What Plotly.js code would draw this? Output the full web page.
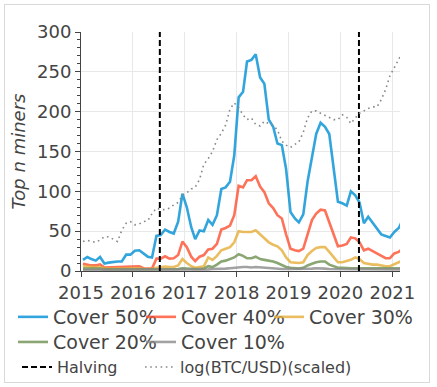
<!DOCTYPE html>
<html>
<head>
<meta charset="utf-8">
<script src="https://cdn.plot.ly/plotly-3.0.1.min.js"></script>
<style>
  html, body { margin: 0; padding: 0; background: #fff; }
  #wrap { position: relative; width: 437px; height: 387px; }
  #chart { position: absolute; left: 0; top: 0; width: 437px; height: 387px; }
  #frame { position: absolute; left: 4px; top: 4px; width: 424px; height: 377px; border: 1px solid #d9d9d9; pointer-events: none; }
</style>
</head>
<body>
<div id="wrap"><div id="chart"></div><div id="frame"></div></div>
<script>
// Monthly observations, Jan 2015 .. Mar 2021 (one value per month)
const startYear = 2015, startMonth = 1, nMonths = 75;
const months = [];
for (let k = 0; k < nMonths; k++) {
  const m = (startMonth - 1 + k) % 12 + 1;
  const y = startYear + Math.floor((startMonth - 1 + k) / 12);
  months.push(y + '-' + String(m).padStart(2, '0') + '-15');
}

const cover50 = [14,17.6,15,13,17.6,9.3,10.5,11.5,12,12,20.5,20.5,25.5,26,22,18,17,
  44,45,52,49,47,62,97,80,55,40,51,50,64,58,70,103,105,112,
  145,218,225,263,265,272,243,235,190,181,160,158,128,74,66,61,
  71,112,142,172,186,181,172,128,87,85,82,100,95,86,60,68,61,54,46,44,42,49,54,64];
const cover40 = [9,7.5,7,7,8.4,4.2,4.5,4.8,5,5,5.5,6,6,6,3.5,3,3,
  15.5,15.5,18.4,15.5,16,20,37,30,18,12.5,18,20,27,28,34,52,54,57,
  70,107,105,114,114,119,106,99,85,79,70,66,46,28,26,25,
  28,45,64,72,77,76,62,45,31,32,34,42,41,36,26,28,25,22,19,16,16,22,24,28];
const cover30 = [6,5.5,5,5,5,3,3,3,3,3,3,3.5,3.5,3.5,2.5,2.5,2.5,
  4,5,5.5,5,5,7,15,10,6,4,5,6,17,14,19,26,28,30,
  36,50,49,49,49,51,46,42,36,33,31,26,17,11,10,10,
  11,20,25,29,30,30,24,17,11,11,12.5,14,17,15,10,9,8,8,7,6,6,9,11,13];
const cover20 = [3,3,3,3,3,2,2,2,2,2,2,2,2,2,2,2,2,
  2.5,2.5,2.5,2.5,2.5,2.5,3.5,3,2.5,2.5,2.5,3,6,5,8,12,13,15,
  17,21,19,16,16,18,15,14,13,12,10,7,5,4,3.5,3,
  4,7,9,11,12,12,8,6,4,4,3.5,3.5,3.5,3.5,3.5,3.5,3.5,3.5,3.5,3.5,3.5,3.5,3.5,3.5];
const cover10 = [1.5,1.5,1.5,1.5,1.5,1.5,1.5,1.5,1.5,1.5,1.5,1.5,1.5,1.5,1.5,1.5,1.5,
  1.5,1.5,1.5,1.5,1.5,1.5,1.5,1.5,1.5,1.5,1.5,1.5,2,2.5,2.5,3,3,3.5,
  4,5,5,5,4.5,5,4.5,4,4,3.5,3,2.5,2.5,2.5,2.5,2.5,
  2.5,2.5,3,3.5,3.5,3,2.5,2.5,2,2,2,2,2,2,2,2,2,2,2,2,2,2,2,2];
const btcScaled = [37,38.5,37,36,39,43,43,40,37,51,60,62,58,59,62,63,
  72,79,77,77,79,83,86,95,98,103,105,115,134,141,150,165,173,183,203,211,
  205,196,190,192,184,182,188,185,183,177,163,158,155,159,162,
  174,192,201,201,198,195,193,190,190,196,193,185,192,198,201,204,206,206,215,228,245,255,264,275];

const halvingDates = ['2016-07-09', '2020-05-11'];
const yMax = 300;

const seriesNames = ['Cover 50%', 'Cover 40%', 'Cover 30%', 'Cover 20%', 'Cover 10%'];
const seriesData = [cover50, cover40, cover30, cover20, cover10];
const seriesColors = ['#008fd5', '#fc4f30', '#e5ae38', '#6d904f', '#8b8b8b'];

const traces = seriesNames.map((name, i) => ({
  type: 'scatter', mode: 'lines', name: name,
  x: months, y: seriesData[i],
  line: { color: seriesColors[i], width: 2.6 },
  opacity: 0.8,
  legend: i === 0 ? 'legend' : 'legend' + (i + 1)
}));

// halving vertical lines
const hx = [], hy = [];
halvingDates.forEach((d, i) => { if (i) { hx.push(null); hy.push(null); } hx.push(d, d); hy.push(0, yMax); });
traces.push({
  type: 'scatter', mode: 'lines', name: 'Halving',
  x: hx, y: hy,
  line: { color: '#000', width: 2, dash: '6px,3px' },
  legend: 'legend6'
});
traces.push({
  type: 'scatter', mode: 'lines', name: 'log(BTC/USD)(scaled)',
  x: months, y: btcScaled,
  line: { color: '#888', width: 1.6, dash: '1.6px,3.6px' },
  legend: 'legend7'
});

// one legend box per entry, laid out in three rows like the reference
function leg(x, y, size) {
  return { orientation: 'h', xanchor: 'left', yanchor: 'top', x: x, y: y,
           bgcolor: 'rgba(0,0,0,0)', font: { size: size } };
}

const layout = {
  width: 437, height: 387,
  margin: { l: 81, r: 37, t: 32, b: 116, autoexpand: false },
  paper_bgcolor: '#fff', plot_bgcolor: '#fff',
  font: { family: 'DejaVu Sans, sans-serif', color: '#444', size: 18 },
  showlegend: true,
  xaxis: {
    type: 'date', range: ['2015-01-01', '2021-02-24'],
    tick0: '2015-01-01', dtick: 'M12', tickformat: '%Y',
    ticks: 'outside', ticklen: 5, tickcolor: '#444',
    showline: true, linecolor: '#444', linewidth: 1,
    showgrid: true, gridcolor: '#e8e8e8', zeroline: false,
    tickfont: { size: 18 }
  },
  yaxis: {
    range: [0, yMax], dtick: 50, tick0: 0,
    ticks: 'outside', ticklen: 5, tickcolor: '#444',
    minor: { ticks: 'outside', ticklen: 3, dtick: 10, tickcolor: '#444', showgrid: false },
    showline: true, linecolor: '#444', linewidth: 1,
    showgrid: true, gridcolor: '#e8e8e8', zeroline: false,
    tickfont: { size: 18 },
    title: { text: 'Top n miners', font: { size: 18, style: 'italic' }, standoff: 6 }
  },
  legend:  leg(-0.2132, -0.113, 19),
  legend2: leg( 0.1881, -0.113, 19),
  legend3: leg( 0.5893, -0.113, 19),
  legend4: leg(-0.2132, -0.218, 19),
  legend5: leg( 0.1881, -0.218, 19),
  legend6: leg(-0.2006, -0.331, 16),
  legend7: leg( 0.1850, -0.331, 16)
};

Plotly.newPlot('chart', traces, layout, { displayModeBar: false, staticPlot: true });
</script>
</body>
</html>
